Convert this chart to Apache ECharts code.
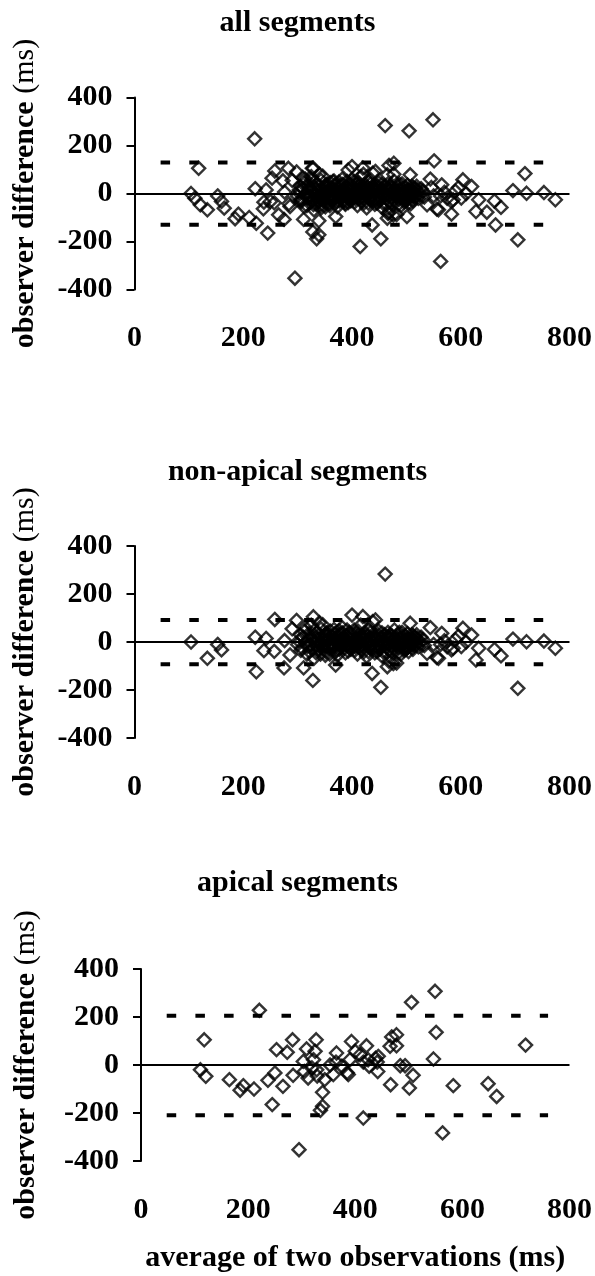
<!DOCTYPE html>
<html>
<head>
<meta charset="utf-8">
<script src="https://cdn.jsdelivr.net/npm/echarts@6/dist/echarts.min.js"></script>
<style>
html,body{margin:0;padding:0;background:#fff;}
#chart{width:595px;height:1276px;}
</style>
</head>
<body>
<div id="chart"></div>
<script>
// ---- data ----
const panelTitles = ['all segments', 'non-apical segments', 'apical segments'];
const xTickValues = [0, 200, 400, 600, 800];
const yTickValues = [-400, -200, 0, 200, 400];
const yAxisTitle = ['observer difference', '(ms)'];
const xAxisTitle = 'average of two observations (ms)';

// limits of agreement per panel (all, non-apical, apical)
const upperLimit = [129, 92, 205];
const lowerLimit = [-130, -93, -209];
const limitSpan = [48, 760];

// [average (ms), difference (ms)]
const nonApical = [
  [104,0],[134,-68],[153,-10],[160,-33],[222,20],[224,-124],[238,-36],[242,15],[257,-39],[258,94],
  [275,-108],[276,6],[286,-54],[290,55],[298,90],[300,-10],[305,30],[308,-25],[311,-108],[313,45],
  [318,-18],[320,10],[322,-40],[325,70],[328,-160],[329,105],[330,-68],[332,20],[333,-5],[335,40],
  [338,-30],[340,80],[342,-50],[345,15],[346,72],[348,-15],[350,30],[352,-40],[355,5],[358,-25],
  [360,45],[362,-10],[365,20],[367,52],[370,-96],[372,-35],[375,10],[378,35],[380,-20],[382,60],
  [385,0],[388,-45],[390,25],[392,-10],[395,40],[398,-30],[400,112],[401,5],[404,50],[406,-20],
  [408,15],[410,-50],[412,30],[414,-5],[416,70],[418,-35],[420,106],[421,10],[423,40],[425,-15],
  [427,-60],[429,25],[431,55],[433,-25],[435,5],[437,-131],[438,85],[440,35],[442,-45],[443,92],
  [445,15],[447,-10],[449,45],[451,-30],[453,-189],[454,20],[456,-60],[458,0],[460,30],[461,283],
  [463,-20],[465,-103],[466,40],[468,-80],[470,10],[472,-40],[474,25],[476,-90],[478,50],[480,-10],
  [482,-88],[484,30],[486,-25],[488,15],[490,-50],[492,40],[494,0],[496,-35],[498,25],[500,-15],
  [502,35],[504,-40],[506,10],[507,78],[508,-20],[510,30],[512,-30],[514,5],[516,20],[518,-10],
  [520,15],[525,-5],[530,10],[538,-47],[544,60],[550,-10],[556,-65],[559,-68],[563,-10],[565,36],
  [570,5],[575,-20],[583,-33],[586,-26],[590,10],[596,25],[601,-19],[604,57],[610,0],[620,29],
  [628,-75],[633,-26],[662,-31],[674,-58],[696,12],[705,-193],[721,1],[753,4],[774,-26],
  [315,-5],[326,15],[336,-20],[344,-2],[354,25],[364,-28],[374,-12],[384,20],[394,-22],[403,-8],
  [413,-22],[419,22],[428,2],[436,-12],[444,-25],[452,8],[459,-12],[467,22],[475,-5],[483,5],
  [491,-15],[497,8],[505,-5],[511,-8],[517,2],
  [302,5],[306,-35],[310,20],[314,60],[317,-50],[321,35],[324,-12],[327,-30],[331,48],[334,-45],
  [337,10],[339,28],[341,-8],[343,55],[347,-30],[349,0],[351,-55],[353,38],[356,-18],[357,12],
  [359,-50],[361,28],[363,0],[366,-15],[368,35],[369,-40],[371,12],[373,-55],[376,48],[377,-30],
  [379,8],[381,-8],[383,38],[386,-25],[387,12],[389,-12],[391,50],[393,-38],[396,10],[397,28],
  [399,-15],[402,35],[405,-35],[407,2],[409,-8],[411,45],[415,18],[417,-18],[422,-40],[424,28],
  [426,-2],[430,-40],[432,15],[434,40],[439,-28],[441,18],[446,-40],[448,30],[450,-15],[455,38],
  [457,-40],[462,15],[464,-45],[469,-30],[471,28],[473,-15],[477,10],[479,-35],[481,18],[485,-45],
  [487,40],[489,-5],[493,20],[495,-25],[499,-30],[501,5],[503,-22],[509,15],[513,25],[515,-15],
  [519,30],[522,-20],[527,20],[533,-15]
];

const apical = [
  [111,-20],[118,105],[121,-47],[165,-61],[185,-105],[191,-86],[211,-100],[221,228],[237,-64],[245,-165],
  [250,-33],[253,64],[265,-89],[273,53],[283,105],[284,-43],[295,-353],[303,15],[305,-27],[309,67],
  [312,-54],[319,-12],[322,22],[325,57],[327,105],[328,-20],[329,-46],[335,-189],[339,-114],[339,-172],
  [343,-61],[353,0],[359,-40],[364,12],[365,50],[375,-5],[385,-32],[387,-40],[390,22],[393,98],
  [400,57],[409,43],[415,12],[415,-221],[421,80],[424,22],[426,-5],[438,28],[441,12],[442,-27],
  [443,36],[465,78],[466,-82],[468,117],[477,126],[477,80],[484,-3],[493,-3],[501,-96],[505,261],
  [508,-43],[546,25],[549,307],[551,136],[563,-283],[583,-86],[648,-78],[664,-131],[718,83]
];

const allSegments = nonApical.concat(apical);
const panelData = [allSegments, nonApical, apical];

// ---- layout ----
const FONT = '"Liberation Serif","Times New Roman",serif';
const grids = [
  {left: 134.5, top: 97.5, width: 435, height: 192},
  {left: 134.5, top: 546, width: 435, height: 192},
  {left: 141, top: 969, width: 428.5, height: 192}
];
const titleTops = [3, 452, 863];

const chart = echarts.init(document.getElementById('chart'), null, {renderer: 'canvas'});

const option = {
  animation: false,
  backgroundColor: '#fff',
  title: panelTitles.map((t, i) => ({
    text: t, left: 'center', top: titleTops[i],
    textStyle: {fontFamily: FONT, fontWeight: 'bold', fontSize: 30, color: '#000'}
  })),
  grid: grids.map(g => Object.assign({containLabel: false}, g)),
  xAxis: grids.map((g, i) => ({
    type: 'value', gridIndex: i, min: xTickValues[0], max: xTickValues[xTickValues.length - 1], interval: 200,
    axisLine: {show: false, onZero: false},
    axisTick: {show: false},
    splitLine: {show: false},
    axisLabel: {margin: 34, fontFamily: FONT, fontWeight: 'bold', fontSize: 30, color: '#000'},
    name: i === 2 ? xAxisTitle : '',
    nameLocation: 'middle', nameGap: 82,
    nameTextStyle: {fontFamily: FONT, fontWeight: 'bold', fontSize: 30, color: '#000'}
  })),
  yAxis: grids.map((g, i) => ({
    type: 'value', gridIndex: i, min: yTickValues[0], max: yTickValues[yTickValues.length - 1], interval: 200,
    axisLine: {show: true, onZero: false, lineStyle: {color: '#000', width: 2}},
    axisTick: {show: true, inside: false, length: 8, lineStyle: {color: '#000', width: 2}},
    splitLine: {show: false},
    axisLabel: {margin: 22, fontFamily: FONT, fontWeight: 'bold', fontSize: 30, color: '#000'},
    name: '{b|' + yAxisTitle[0] + '} {n|' + yAxisTitle[1] + '}',
    nameLocation: 'middle', nameRotate: 90, nameGap: i === 2 ? 100 : 94,
    nameTextStyle: {
      fontFamily: FONT, fontSize: 30, color: '#000',
      rich: {
        b: {fontFamily: FONT, fontWeight: 'bold', fontSize: 30, color: '#000'},
        n: {fontFamily: FONT, fontWeight: 'normal', fontSize: 30, color: '#000'}
      }
    }
  })),
  series: []
};

panelData.forEach((data, i) => {
  option.series.push({
    type: 'scatter', xAxisIndex: i, yAxisIndex: i, data: data,
    symbol: 'diamond', symbolSize: 13, silent: true,
    itemStyle: {color: 'rgba(0,0,0,0)', borderColor: '#000', borderWidth: 2.4},
    markLine: {
      silent: true, symbol: 'none', label: {show: false},
      lineStyle: {color: '#000', type: 'solid', width: 2},
      data: [{yAxis: 0}]
    },
    z: 3
  });
  [upperLimit[i], lowerLimit[i]].forEach(lim => {
    option.series.push({
      type: 'line', xAxisIndex: i, yAxisIndex: i, silent: true,
      data: [[limitSpan[0], lim], [limitSpan[1], lim]],
      symbol: 'none',
      lineStyle: {color: '#000', width: 4, type: [9.5, 19.2], cap: 'butt'},
      z: 2
    });
  });
});

chart.setOption(option);
</script>
</body>
</html>
